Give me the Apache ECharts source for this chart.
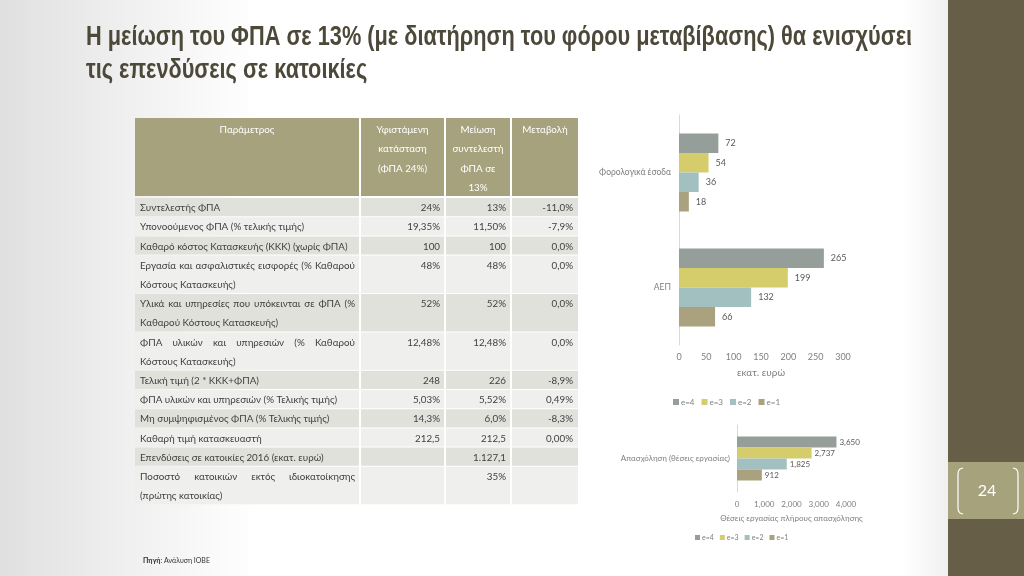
<!DOCTYPE html>
<html><head><meta charset="utf-8">
<script src="https://cdn.jsdelivr.net/npm/echarts@6/dist/echarts.min.js"></script>
<style>html,body{margin:0;padding:0;background:#fff;}#c{width:1024px;height:576px;}</style>
</head><body><div id="c"></div>
<script>
// ---------- DATA ----------
const titleLines = ["Η μείωση του ΦΠΑ σε 13% (με διατήρηση του φόρου μεταβίβασης) θα ενισχύσει", "τις επενδύσεις σε κατοικίες"];
const tableHeaders = [["Παράμετρος"], ["Υφιστάμενη", "κατάσταση", "(ΦΠΑ 24%)"], ["Μείωση", "συντελεστή", "ΦΠΑ σε", "13%"], ["Μεταβολή"]];
const paramNames = [
  ["Συντελεστής ΦΠΑ"],
  ["Υπονοούμενος ΦΠΑ (% τελικής τιμής)"],
  ["Καθαρό κόστος Κατασκευής (ΚΚΚ) (χωρίς ΦΠΑ)"],
  ["Εργασία και ασφαλιστικές εισφορές (% Καθαρού", "Κόστους Κατασκευής)"],
  ["Υλικά και υπηρεσίες που υπόκεινται σε ΦΠΑ (%", "Καθαρού Κόστους Κατασκευής)"],
  ["ΦΠΑ υλικών και υπηρεσιών (% Καθαρού", "Κόστους Κατασκευής)"],
  ["Τελική τιμή (2 * ΚΚΚ+ΦΠΑ)"],
  ["ΦΠΑ υλικών και υπηρεσιών (% Τελικής τιμής)"],
  ["Μη συμψηφισμένος ΦΠΑ (% Τελικής τιμής)"],
  ["Καθαρή τιμή κατασκευαστή"],
  ["Επενδύσεις σε κατοικίες 2016 (εκατ. ευρώ)"],
  ["Ποσοστό κατοικιών εκτός ιδιοκατοίκησης", "(πρώτης κατοικίας)"]
];
const currentVals = ["24%", "19,35%", "100", "48%", "52%", "12,48%", "248", "5,03%", "14,3%", "212,5", "", ""];
const reducedVals = ["13%", "11,50%", "100", "48%", "52%", "12,48%", "226", "5,52%", "6,0%", "212,5", "1.127,1", "35%"];
const changeVals = ["-11,0%", "-7,9%", "0,0%", "0,0%", "0,0%", "0,0%", "-8,9%", "0,49%", "-8,3%", "0,00%", "", ""];

const seriesNames = ["e=4", "e=3", "e=2", "e=1"];
const impactCategories = ["Φορολογικά έσοδα", "ΑΕΠ"];
const e4 = [72, 265];
const e3 = [54, 199];
const e2 = [36, 132];
const e1 = [18, 66];
const jobsCategories = ["Απασχόληση (θέσεις εργασίας)"];
const jobsE4 = [3650];
const jobsE3 = [2737];
const jobsE2 = [1825];
const jobsE1 = [912];
const axis1Name = "εκατ. ευρώ";
const axis2Name = "Θέσεις εργασίας πλήρους απασχόλησης";
const sourceLabel = "Πηγή";
const sourceText = ": Ανάλυση ΙΟΒΕ";
const pageNumber = "24";

// ---------- STYLE ----------
const seriesColors = ["#969e99", "#d5cc6c", "#a2c0bf", "#aaa27e"];
const FONT = 'Lato, "Liberation Sans", sans-serif';
const textColor = "#3f3f3f";

const chart = echarts.init(document.getElementById('c'), null, {renderer: 'canvas'});
const cv = document.createElement('canvas').getContext('2d');
function measure(t, font) { cv.font = font; return cv.measureText(t).width; }

const g = [];
function txt(x, y, text, opts) {
  opts = opts || {};
  const size = opts.size || 10;
  const weight = opts.weight || 'normal';
  const fam = opts.family || FONT;
  g.push({
    type: 'text', x: x, y: y, z: opts.z || 10, scaleX: opts.scaleX || 1,
    style: {
      text: text, font: weight + ' ' + size + 'px ' + fam,
      fill: opts.color || textColor,
      align: opts.align || 'left', textAlign: opts.align || 'left',
      verticalAlign: 'middle', textVerticalAlign: 'middle'
    }
  });
}
function rect(x, y, w, h, fill, z) {
  g.push({type: 'rect', z: z || 1, shape: {x: x, y: y, width: w, height: h}, style: {fill: fill}});
}

// background
g.push({type: 'rect', z: -100, shape: {x: 0, y: 0, width: 1024, height: 576},
  style: {fill: {type: 'linear', x: 0, y: 0, x2: 1, y2: 0, colorStops: [
    {offset: 0, color: '#e0e0e0'}, {offset: 0.12, color: '#efefef'}, {offset: 0.25, color: '#ffffff'},
    {offset: 0.88, color: '#ffffff'}, {offset: 0.925, color: '#f0f0f0'}]}}});
// sidebar
rect(948, 0, 76, 576, '#675e47', 2);
rect(948, 462, 76, 57, '#a6a37c', 3);
g.push({type: 'polyline', z: 4, shape: {points: [[963, 468], [960, 469], [958.5, 471], [958, 474], [958, 508], [958.5, 511], [960, 513], [963, 514]]},
  style: {fill: null, stroke: '#ffffff', lineWidth: 1.2}});
g.push({type: 'polyline', z: 4, shape: {points: [[1013, 468], [1016, 469], [1017.5, 471], [1018, 474], [1018, 508], [1017.5, 511], [1016, 513], [1013, 514]]},
  style: {fill: null, stroke: '#ffffff', lineWidth: 1.2}});
txt(987, 491, pageNumber, {size: 16, color: '#ffffff', align: 'center'});

// title
const titleFam = '"Liberation Sans Narrow", "Liberation Sans", sans-serif';
const titleFont = 'bold 27px ' + titleFam;
const tw = measure(titleLines[0], titleFont);
const tScale = 826 / tw;
titleLines.forEach((l, i) => txt(86, 38 + i * 33, l, {size: 27, weight: 'bold', family: titleFam, color: '#4d493a', scaleX: tScale}));

// table
const TS = 9.8;
const colEdges = [135, 361, 446, 512, 578];
const headTop = 118, headBottom = 196;
for (let c = 0; c < 4; c++) {
  const right = c < 3 ? colEdges[c + 1] - 2 : colEdges[c + 1];
  rect(colEdges[c], headTop, right - colEdges[c], headBottom - headTop, '#a6a27e', 1);
  tableHeaders[c].forEach((l, i) => txt((colEdges[c] + right) / 2, 130 + i * 19.3, l, {size: TS, color: '#ffffff', align: 'center'}));
}
const lineH = 19.2;
const tFont = 'normal ' + TS + 'px ' + FONT;
let y = 198;
paramNames.forEach((lines, r) => {
  const h = lines.length * lineH;
  const fill = r % 2 === 0 ? '#e1e1dc' : '#efefed';
  for (let c = 0; c < 4; c++) {
    const right = c < 3 ? colEdges[c + 1] - 2 : colEdges[c + 1];
    rect(colEdges[c], y, right - colEdges[c], h - 1, fill, 1);
  }
  lines.forEach((l, i) => {
    const ly = y + lineH / 2 + i * lineH + 0.5;
    if (lines.length > 1 && i < lines.length - 1) {
      const words = l.split(' ');
      const widths = words.map(w => measure(w, tFont));
      const tot = widths.reduce((a, b) => a + b, 0);
      const gap = (355 - 140 - tot) / (words.length - 1);
      let x = 140;
      words.forEach((w, k) => { txt(x, ly, w, {size: TS}); x += widths[k] + gap; });
    } else {
      txt(140, ly, l, {size: TS});
    }
  });
  const vy = y + lineH / 2 + 0.5;
  txt(colEdges[2] - 6, vy, currentVals[r], {size: TS, align: 'right'});
  txt(colEdges[3] - 6, vy, reducedVals[r], {size: TS, align: 'right'});
  txt(colEdges[4] - 5, vy, changeVals[r], {size: TS, align: 'right'});
  y += h;
});

// source
txt(143, 561, sourceLabel, {size: 7, weight: 'bold', color: '#333'});
txt(143 + measure(sourceLabel, 'bold 7px ' + FONT), 561, sourceText, {size: 7, color: '#333'});

const impactData = [e4, e3, e2, e1];
const jobsData = [jobsE4, jobsE3, jobsE2, jobsE1];
const series = [];
seriesNames.forEach((n, i) => {
  series.push({type: 'bar', name: n, xAxisIndex: 0, yAxisIndex: 0, data: impactData[i],
    barWidth: 19.5, barGap: '0%', itemStyle: {color: seriesColors[i]},
    label: {show: true, position: 'right', distance: 7, fontSize: 9, color: '#595959', fontFamily: FONT}});
});
seriesNames.forEach((n, i) => {
  series.push({type: 'bar', name: n, xAxisIndex: 1, yAxisIndex: 1, data: jobsData[i],
    barWidth: 11, barGap: '0%', itemStyle: {color: seriesColors[i]},
    label: {show: true, position: 'right', distance: 3, fontSize: 8, color: '#595959', fontFamily: FONT,
      formatter: p => p.value.toLocaleString('en-US')}});
});

chart.setOption({
  animation: false,
  textStyle: {fontFamily: FONT},
  graphic: {elements: g},
  grid: [
    {left: 679, top: 115, width: 164, height: 230, containLabel: false},
    {left: 737, top: 425, width: 109, height: 67, containLabel: false}
  ],
  xAxis: [
    {gridIndex: 0, type: 'value', min: 0, max: 300, interval: 50,
      axisLine: {show: false}, axisTick: {show: false}, splitLine: {show: false},
      axisLabel: {fontSize: 9, color: '#7f7f7f', margin: 8},
      name: axis1Name, nameLocation: 'middle', nameGap: 23, nameTextStyle: {fontSize: 10, color: '#7f7f7f'}},
    {gridIndex: 1, type: 'value', min: 0, max: 4000, interval: 1000,
      axisLine: {show: false}, axisTick: {show: false}, splitLine: {show: false},
      axisLabel: {fontSize: 8, color: '#7f7f7f', margin: 8, formatter: v => v.toLocaleString('en-US')},
      name: axis2Name, nameLocation: 'middle', nameGap: 22, nameTextStyle: {fontSize: 8, color: '#7f7f7f'}}
  ],
  yAxis: [
    {gridIndex: 0, type: 'category', data: impactCategories, inverse: true,
      axisLine: {show: true, lineStyle: {color: '#d9d9d9'}}, axisTick: {show: false},
      axisLabel: {fontSize: 8.5, color: '#7f7f7f', margin: 8}},
    {gridIndex: 1, type: 'category', data: jobsCategories, inverse: true,
      axisLine: {show: true, lineStyle: {color: '#d9d9d9'}}, axisTick: {show: false},
      axisLabel: {fontSize: 8, color: '#7f7f7f', margin: 7}}
  ],
  legend: [
    {data: seriesNames, left: 668, top: 393, itemWidth: 6, itemHeight: 6, itemGap: 7, icon: 'rect',
      textStyle: {fontSize: 8, color: '#7f7f7f', padding: [0, 0, 0, -3]}},
    {data: seriesNames, left: 690, top: 529, itemWidth: 5, itemHeight: 5, itemGap: 6, icon: 'rect',
      textStyle: {fontSize: 7, color: '#7f7f7f', padding: [0, 0, 0, -3]}}
  ],
  series: series
});
</script>
</body></html>
